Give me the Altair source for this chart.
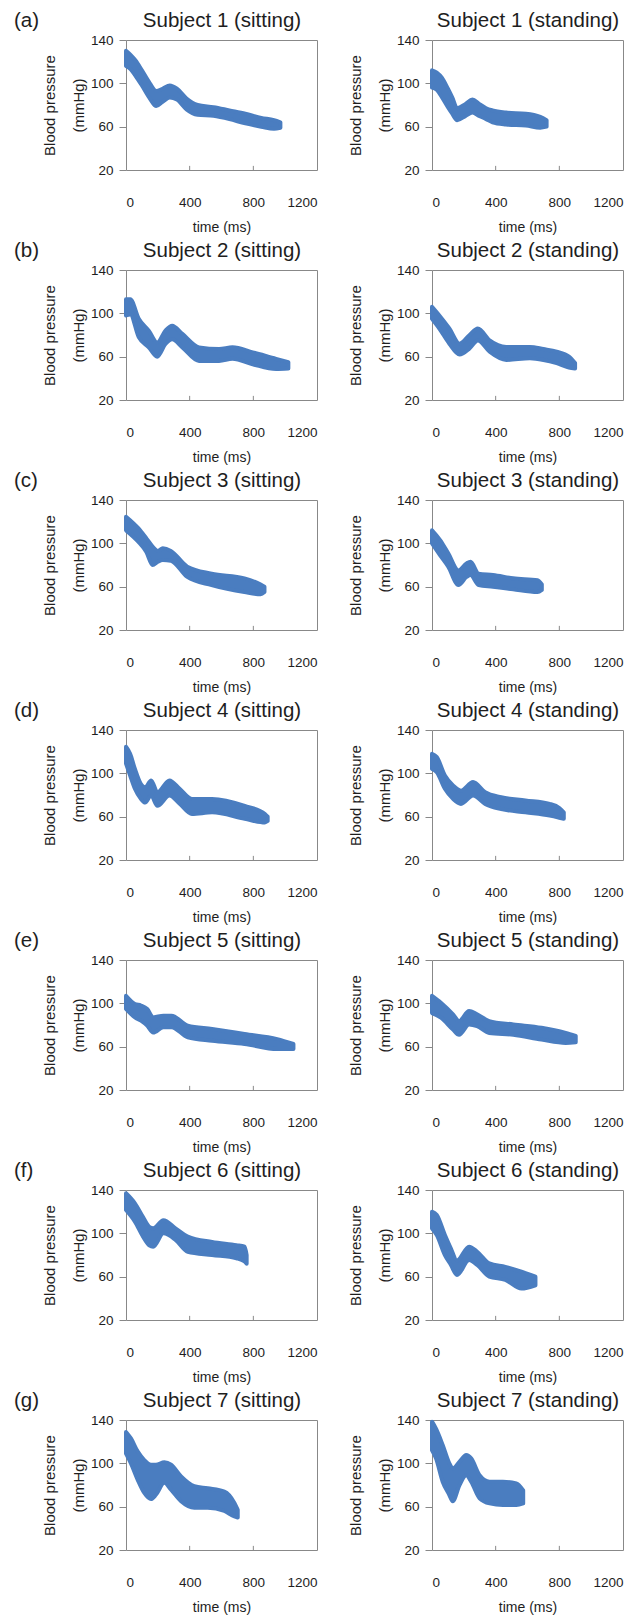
import altair as alt
import pandas as pd

BAND = "#4a7dc0"
FRAME = "#888888"
TXT = "#1e1e1e"
FONT = "Liberation Sans"

letters = ["(a)", "(b)", "(c)", "(d)", "(e)", "(f)", "(g)"]
x_ticks = [0, 400, 800, 1200]
y_ticks = [20, 60, 100, 140]
inner_ticks = [400, 800]

# Subject 1
s1_sit_t = [0, 30, 60, 100, 150, 190, 230, 275, 320, 380, 450, 550, 650, 750, 850, 930, 970]
s1_sit_hi = [130, 126, 121, 112, 100, 93, 95, 98, 95, 86, 80, 78, 75, 72, 68, 66, 64]
s1_sit_lo = [116, 113, 107, 98, 86, 79, 83, 87, 85, 76, 71, 70, 67, 63, 60, 58, 59]
s1_std_t = [0, 30, 63, 100, 127, 158, 211, 254, 296, 340, 380, 465, 590, 680, 720]
s1_std_hi = [112, 110, 105, 95, 87, 77, 81, 85, 81, 77, 75, 73, 72, 69, 66]
s1_std_lo = [96, 94, 87, 78, 72, 66, 70, 73, 70, 67, 64, 62, 61, 59, 60]
# Subject 2
s2_sit_t = [0, 27, 80, 143, 196, 248, 290, 354, 459, 585, 669, 796, 943, 1020]
s2_sit_hi = [113, 113, 95, 84, 73, 84, 88.6, 81, 68.6, 67, 68.6, 64, 58, 55]
s2_sit_lo = [98, 99, 78, 68.6, 60, 71.7, 76, 68.6, 56, 56, 58, 53, 48.6, 49]
s2_std_t = [0, 46, 109, 173, 236, 288, 362, 467, 615, 700, 783, 860, 899]
s2_std_hi = [106, 98, 86, 72, 80, 86, 75, 69, 69, 67, 64.6, 60, 54]
s2_std_lo = [95, 86, 72, 62, 67.7, 75, 64.6, 57, 58.5, 57, 54, 50, 49]
# Subject 3
s3_sit_t = [0, 77, 128, 167, 200, 231, 282, 385, 538, 744, 846, 870]
s3_sit_hi = [124.6, 114, 104.6, 97, 93, 95.4, 93, 78.5, 72, 67.7, 62, 60]
s3_sit_lo = [112, 101.5, 92, 80, 83, 84.6, 84, 69, 61.5, 55, 53, 55]
s3_std_t = [0, 51, 102, 166, 217, 242, 293, 383, 510, 663, 690]
s3_std_hi = [112, 103, 90.8, 75, 81.5, 83, 72, 70.8, 67.7, 66, 62]
s3_std_lo = [100, 89, 78.5, 61.5, 69, 70.8, 61.5, 60, 57.5, 55, 57]
# Subject 4
s4_sit_t = [0, 26, 56, 94, 120, 158, 197, 273, 337, 414, 541, 746, 873, 890]
s4_sit_hi = [124.5, 118, 104, 90, 87, 93.5, 82.6, 93.5, 85.7, 76.4, 76.4, 70, 62.5, 60]
s4_sit_lo = [109, 98, 85.7, 76.4, 73, 79.5, 70, 79.5, 72, 62.5, 64, 58, 54.7, 56]
s4_std_t = [0, 30, 81, 132, 182, 258, 334, 435, 587, 739, 800, 828]
s4_std_hi = [118, 115, 98, 88.8, 84, 92, 82.6, 78, 75, 71.8, 68, 64]
s4_std_lo = [104, 101, 85.7, 76.4, 71.8, 79.5, 71.8, 67, 64, 61, 59, 58]
# Subject 5
s5_sit_t = [0, 56, 94, 133, 171, 235, 286, 388, 541, 745, 950, 1052]
s5_sit_hi = [107, 99.4, 98, 94.8, 87, 88.6, 88.6, 79.4, 76.3, 71.7, 67, 62.5]
s5_sit_lo = [94.8, 87, 84, 79.4, 73, 78, 78, 68.6, 65.5, 62.5, 57.8, 57.8]
s5_std_t = [0, 56, 132, 170, 233, 283, 360, 511, 688, 840, 903]
s5_std_hi = [107, 100.6, 89.8, 83.6, 93, 89.8, 83.6, 80.5, 77.4, 72.7, 70]
s5_std_lo = [91, 86.7, 75.8, 71, 80.5, 79, 72.7, 71, 66.5, 63.4, 64]
# Subject 6
s6_sit_t = [0, 56, 107, 146, 171, 235, 311, 388, 541, 694, 745, 758]
s6_sit_hi = [137, 127.7, 115, 106, 104.6, 112, 104.6, 97, 92, 89, 87.7, 80]
s6_sit_lo = [121.5, 110.8, 97, 89, 87.7, 100, 94, 83, 80, 77, 74, 72]
s6_std_t = [0, 30, 81, 119, 157, 233, 284, 360, 461, 562, 650]
s6_std_hi = [120, 117, 98.5, 86, 75, 87.7, 83, 72.3, 69, 64.6, 60]
s6_std_lo = [104.6, 98.5, 80, 70.8, 61.5, 75.4, 70.8, 60, 57, 49, 52]
# Subject 7
s7_sit_t = [0, 31, 73, 115, 157, 188, 241, 283, 346, 429, 513, 618, 681, 702]
s7_sit_hi = [129, 123, 111, 103, 98.7, 98.7, 101, 98.7, 88, 79, 77, 74, 63.5, 57]
s7_sit_lo = [109, 100, 85, 72.7, 67, 71, 82, 75.7, 65, 59, 59, 56, 51, 50]
s7_std_t = [0, 25, 67, 109, 130, 173, 215, 246, 299, 362, 446, 530, 573]
s7_std_hi = [138.5, 132, 117, 100, 95.4, 101.5, 107.7, 104.6, 89, 83, 83, 81.5, 75]
s7_std_lo = [112, 104.6, 83, 70.8, 65, 80, 89, 83, 67.7, 63, 61.5, 61.5, 63]

panels_data = [
    (s1_sit_t, s1_sit_hi, s1_sit_lo, "Subject 1 (sitting)"),
    (s1_std_t, s1_std_hi, s1_std_lo, "Subject 1 (standing)"),
    (s2_sit_t, s2_sit_hi, s2_sit_lo, "Subject 2 (sitting)"),
    (s2_std_t, s2_std_hi, s2_std_lo, "Subject 2 (standing)"),
    (s3_sit_t, s3_sit_hi, s3_sit_lo, "Subject 3 (sitting)"),
    (s3_std_t, s3_std_hi, s3_std_lo, "Subject 3 (standing)"),
    (s4_sit_t, s4_sit_hi, s4_sit_lo, "Subject 4 (sitting)"),
    (s4_std_t, s4_std_hi, s4_std_lo, "Subject 4 (standing)"),
    (s5_sit_t, s5_sit_hi, s5_sit_lo, "Subject 5 (sitting)"),
    (s5_std_t, s5_std_hi, s5_std_lo, "Subject 5 (standing)"),
    (s6_sit_t, s6_sit_hi, s6_sit_lo, "Subject 6 (sitting)"),
    (s6_std_t, s6_std_hi, s6_std_lo, "Subject 6 (standing)"),
    (s7_sit_t, s7_sit_hi, s7_sit_lo, "Subject 7 (sitting)"),
    (s7_std_t, s7_std_hi, s7_std_lo, "Subject 7 (standing)"),
]


def panel(t, hi, lo, title, letter=None):
    df = pd.DataFrame({"t": t, "hi": hi, "lo": lo})
    xenc = alt.X(
        "t:Q",
        scale=alt.Scale(domain=[0, 1200], nice=False),
        axis=alt.Axis(
            values=x_ticks, format="d", title="time (ms)", ticks=False, domain=False, grid=False,
            labelPadding=25, titlePadding=12, labelFontSize=13.5, titleFontSize=14,
            titleFontWeight="normal", labelColor=TXT, titleColor=TXT,
        ),
    )
    yenc = alt.Y(
        "hi:Q",
        scale=alt.Scale(domain=[20, 140], nice=False),
        axis=alt.Axis(
            values=y_ticks, format="d", title=["Blood pressure", "(mmHg)"], domain=False, grid=False,
            tickSize=7, tickColor=FRAME, labelPadding=6, labelFontSize=13.5,
            titleFontSize=15, titleFontWeight="normal", titleLineHeight=29,
            titlePadding=4, labelColor=TXT, titleColor=TXT,
        ),
    )
    band = alt.Chart(df).mark_area(
        color=BAND, stroke=BAND, strokeWidth=4, strokeJoin="round",
        interpolate="monotone", opacity=1,
    ).encode(x=xenc, y=yenc, y2="lo:Q")
    tdf = pd.DataFrame({"t": inner_ticks, "y0": [20] * len(inner_ticks), "y1": [23.8] * len(inner_ticks)})
    ticks = alt.Chart(tdf).mark_rule(color=FRAME, strokeWidth=1).encode(
        x="t:Q", y="y0:Q", y2="y1:Q"
    )
    tt = alt.Chart(pd.DataFrame({"label": [title]})).mark_text(
        fontSize=20.5, align="center", baseline="alphabetic", color=TXT, font=FONT
    ).encode(text="label:N", x=alt.value(96), y=alt.value(-13))
    layers = [band, ticks, tt]
    if letter:
        ldf = pd.DataFrame({"label": [letter]})
        layers.append(
            alt.Chart(ldf).mark_text(
                fontSize=20.5, align="left", baseline="alphabetic", color=TXT, font=FONT
            ).encode(text="label:N", x=alt.value(-112), y=alt.value(-13))
        )
    return alt.layer(*layers).properties(width=191, height=130)


charts = []
for i, (t, hi, lo, ttl) in enumerate(panels_data):
    letter = letters[i // 2] if i % 2 == 0 else None
    charts.append(panel(t, hi, lo, ttl, letter))

chart = alt.concat(
    *charts, columns=2, spacing={"row": 100, "column": 115}, bounds="flush"
).properties(
    padding={"left": 13, "top": 10, "right": 0, "bottom": 0}
).configure(font=FONT).configure_view(stroke=FRAME, strokeWidth=1)

chart.save("out.html", embed_options={"renderer": "svg", "actions": False})
